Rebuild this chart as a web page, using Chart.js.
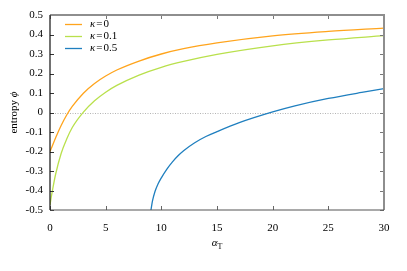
<!DOCTYPE html>
<html>
<head>
<meta charset="utf-8">
<script src="https://cdn.jsdelivr.net/npm/chart.js@4.4.1/dist/chart.umd.min.js"></script>
<style>
html,body{margin:0;padding:0;background:#fff;}
#wrap{width:407px;height:271px;position:relative;}
</style>
</head>
<body>
<div id="wrap"><canvas id="c" width="407" height="271"></canvas></div>
<script>
// ---- data ----
const seriesLabels = ['κ=0', 'κ=0.1', 'κ=0.5'];
const kappaValues = ['0', '0.1', '0.5'];
const xA = [0, 0.1, 0.25, 0.5, 1, 1.5, 2, 3, 4, 5, 6, 8, 10, 12, 15, 20, 25, 30];
const phiK0 = [-0.200, -0.186, -0.165, -0.131, -0.067, -0.013, 0.031, 0.099, 0.149, 0.187, 0.218, 0.264, 0.300, 0.327, 0.357, 0.393, 0.416, 0.433];
const phiK01 = [-0.474, -0.438, -0.390, -0.318, -0.210, -0.136, -0.077, 0.002, 0.060, 0.104, 0.139, 0.192, 0.232, 0.262, 0.298, 0.342, 0.372, 0.394];
const xB = [9.07, 9.2, 9.43, 9.7, 10, 10.5, 11, 11.5, 12, 13, 14, 15, 17, 20, 22, 25, 28, 30];
const phiK05 = [-0.500, -0.455, -0.405, -0.367, -0.335, -0.290, -0.253, -0.222, -0.196, -0.155, -0.123, -0.098, -0.052, 0.003, 0.034, 0.072, 0.103, 0.122];
const xTicks = [0, 5, 10, 15, 20, 25, 30];
const yTicks = [-0.5, -0.4, -0.3, -0.2, -0.1, 0, 0.1, 0.2, 0.3, 0.4, 0.5];
const colors = ['#ffa41c', '#b9e04c', '#1f7fbf'];

const pts = (xs, ys) => xs.map((x, i) => ({x: x, y: ys[i]}));
const SERIF = '"Liberation Serif", "DejaVu Serif", serif';
const FS = 11;

const decor = {
  id: 'decor',
  beforeDatasetsDraw(chart) {
    const ctx = chart.ctx, a = chart.chartArea, y = chart.scales.y;
    const y0 = Math.round(y.getPixelForValue(0)) + 0.5;
    ctx.save();
    ctx.strokeStyle = '#b4b4b4';
    ctx.lineWidth = 1.2;
    ctx.setLineDash([1, 1.5]);
    ctx.beginPath(); ctx.moveTo(a.left, y0); ctx.lineTo(a.right, y0); ctx.stroke();
    ctx.restore();
  },
  afterDatasetsDraw(chart) {
    const ctx = chart.ctx, a = chart.chartArea, xs = chart.scales.x, ys = chart.scales.y;
    ctx.save();
    ctx.lineWidth = 1;
    xTicks.forEach(v => {
      const px = Math.round(xs.getPixelForValue(v)) + 0.5;
      ctx.strokeStyle = '#666';
      ctx.beginPath(); ctx.moveTo(px, a.bottom); ctx.lineTo(px, a.bottom - 4); ctx.stroke();
      ctx.strokeStyle = '#777';
      ctx.beginPath(); ctx.moveTo(px, a.top); ctx.lineTo(px, a.top + 4); ctx.stroke();
    });
    yTicks.forEach(v => {
      const py = Math.round(ys.getPixelForValue(v)) + 0.5;
      ctx.strokeStyle = '#333';
      ctx.beginPath(); ctx.moveTo(a.left, py); ctx.lineTo(a.left + 4, py); ctx.stroke();
      ctx.strokeStyle = '#777';
      ctx.beginPath(); ctx.moveTo(a.right, py); ctx.lineTo(a.right - 4, py); ctx.stroke();
    });
    ctx.strokeStyle = '#8e8e8e';
    ctx.lineWidth = 2;
    ctx.beginPath(); ctx.moveTo(a.left, a.top); ctx.lineTo(a.right, a.top); ctx.lineTo(a.right, a.bottom); ctx.stroke();
    ctx.strokeStyle = '#555';
    ctx.lineWidth = 1.2;
    ctx.beginPath(); ctx.moveTo(a.left, a.bottom); ctx.lineTo(a.right, a.bottom); ctx.stroke();
    ctx.strokeStyle = '#111';
    ctx.lineWidth = 1.2;
    ctx.beginPath(); ctx.moveTo(a.left, a.top); ctx.lineTo(a.left, a.bottom); ctx.stroke();
    ctx.restore();
  },
  afterDraw(chart) {
    const ctx = chart.ctx, a = chart.chartArea;
    ctx.save();
    ctx.fillStyle = '#000';
    ctx.textBaseline = 'middle';
    // legend
    chart.data.datasets.forEach((ds, i) => {
      const ly = a.top + 9.5 + i * 12;
      ctx.strokeStyle = ds.borderColor;
      ctx.lineWidth = 1.3;
      ctx.beginPath(); ctx.moveTo(a.left + 15, ly); ctx.lineTo(a.left + 32, ly); ctx.stroke();
      let tx = a.left + 40;
      ctx.textAlign = 'left';
      ctx.font = 'italic ' + FS + 'px ' + SERIF;
      ctx.fillText('κ', tx, ly);
      tx += ctx.measureText('κ').width + 1;
      ctx.font = FS + 'px ' + SERIF;
      ctx.fillText('=', tx, ly);
      tx += ctx.measureText('=').width + 1;
      ctx.fillText(kappaValues[i], tx, ly);
    });
    // x title: alpha_T
    const cx = (a.left + a.right) / 2;
    ctx.font = 'italic ' + FS + 'px ' + SERIF;
    const wA = ctx.measureText('α').width;
    ctx.font = '8px ' + SERIF;
    const wT = ctx.measureText('T').width;
    let sx = cx - (wA + wT) / 2;
    ctx.textAlign = 'left';
    ctx.font = 'italic ' + FS + 'px ' + SERIF;
    ctx.fillText('α', sx, 243);
    ctx.font = '8px ' + SERIF;
    ctx.fillText('T', sx + wA, 246.5);
    // y title
    ctx.translate(14, (a.top + a.bottom) / 2);
    ctx.rotate(-Math.PI / 2);
    ctx.font = FS + 'px ' + SERIF;
    const w1 = ctx.measureText('entropy ').width;
    ctx.font = 'italic ' + FS + 'px ' + SERIF;
    const w2 = ctx.measureText('ϕ').width;
    ctx.font = FS + 'px ' + SERIF;
    ctx.fillText('entropy ', -(w1 + w2) / 2, 0);
    ctx.font = 'italic ' + FS + 'px ' + SERIF;
    ctx.fillText('ϕ', -(w1 + w2) / 2 + w1, 0);
    ctx.restore();
  }
};

new Chart(document.getElementById('c'), {
  type: 'line',
  data: {
    datasets: [
      {label: seriesLabels[0], data: pts(xA, phiK0), borderColor: colors[0]},
      {label: seriesLabels[1], data: pts(xA, phiK01), borderColor: colors[1]},
      {label: seriesLabels[2], data: pts(xB, phiK05), borderColor: colors[2]}
    ]
  },
  options: {
    responsive: false,
    animation: false,
    devicePixelRatio: 1,
    layout: {padding: {top: 15, right: 23, left: 0, bottom: 0}},
    elements: {
      point: {radius: 0},
      line: {borderWidth: 1.3, cubicInterpolationMode: 'monotone', fill: false}
    },
    plugins: {legend: {display: false}, tooltip: {enabled: false}},
    scales: {
      x: {
        type: 'linear', min: 0, max: 30,
        afterBuildTicks: s => { s.ticks = xTicks.map(v => ({value: v})); },
        afterFit: s => { s.height = 61; },
        grid: {display: false, drawTicks: false},
        border: {display: false},
        ticks: {color: '#000', padding: 12, font: {family: SERIF, size: FS}, maxRotation: 0,
                callback: v => String(v)}
      },
      y: {
        type: 'linear', min: -0.5, max: 0.5,
        afterBuildTicks: s => { s.ticks = yTicks.map(v => ({value: v})); },
        afterFit: s => { s.width = 50; },
        grid: {display: false, drawTicks: false},
        border: {display: false},
        ticks: {color: '#000', padding: 7, font: {family: SERIF, size: FS},
                callback: v => (Math.abs(v) < 1e-9 ? '0' : (Math.round(v * 10) / 10).toFixed(1))}
      }
    }
  },
  plugins: [decor]
});
</script>
</body>
</html>
